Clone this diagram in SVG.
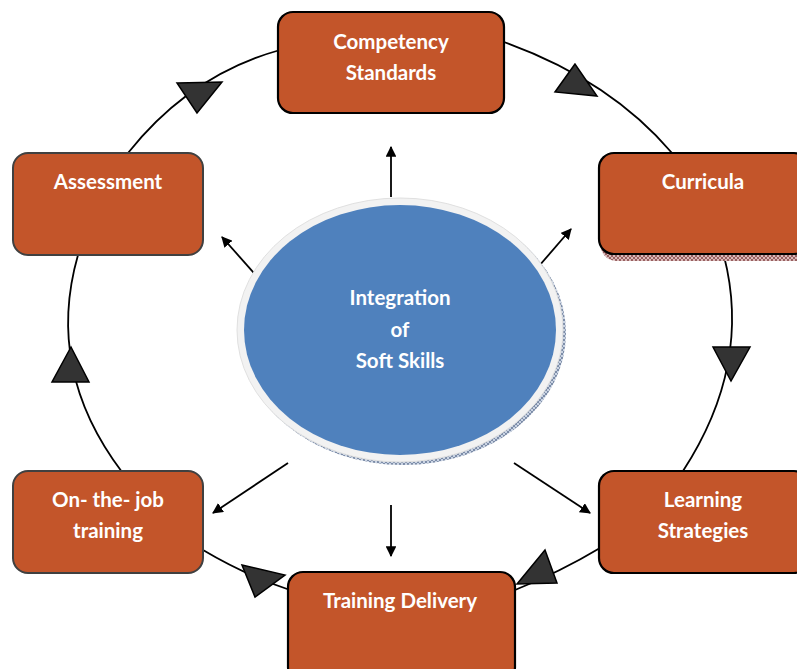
<svg xmlns="http://www.w3.org/2000/svg" width="797" height="669" viewBox="0 0 797 669">
<defs>
<style>
.box{fill:#C3552A;stroke:#000;stroke-width:2.2}
.boxg{fill:#C3552A;stroke:#404040;stroke-width:2}
.t{font-family:Lato,"Open Sans","Liberation Sans",sans-serif;font-weight:700;font-size:20.5px;fill:#fff;text-anchor:middle}
.cyc{fill:none;stroke:#000;stroke-width:1.8}
.tri{fill:#333;stroke:#000;stroke-width:1.5;stroke-linejoin:miter}
.arr{stroke:#000;stroke-width:1.8;fill:none;marker-end:url(#ah)}
</style>
<marker id="ah" viewBox="0 0 10 10" refX="9" refY="5" markerWidth="6" markerHeight="6" orient="auto" markerUnits="strokeWidth">
<path d="M0,0 L10,5 L0,10 z" fill="#000"/>
</marker>
<pattern id="hatchR" width="4" height="4" patternUnits="userSpaceOnUse">
<rect width="4" height="4" fill="#D9B8B8"/>
<path d="M0,0 L4,4 M4,0 L0,4" stroke="#7A3B3B" stroke-width="0.7"/>
</pattern>
<pattern id="hatchB" width="4" height="4" patternUnits="userSpaceOnUse">
<rect width="4" height="4" fill="#C9D3E3"/>
<path d="M0,0 L4,4 M4,0 L0,4" stroke="#4A5E80" stroke-width="0.6"/>
</pattern>
</defs>

<g id="connectors">
<path class="cyc" d="M128,153 Q190,75 280,50"/>
<path class="cyc" d="M504,42 Q610,80 672,153"/>
<path class="cyc" d="M724,256 Q752,365 683,471"/>
<path class="cyc" d="M600,548 Q560,572 515,590"/>
<path class="cyc" d="M203,550 Q245,575 290,590"/>
<path class="cyc" d="M78,255 Q45,370 122,472"/>
<polygon class="tri" points="177,83 222,82 197,113"/>
<polygon class="tri" points="575,64 555,92 597,96"/>
<polygon class="tri" points="713,347 750,347 731,381"/>
<polygon class="tri" points="545,550 517,584 557,583"/>
<polygon class="tri" points="242,565 285,575 255,597"/>
<polygon class="tri" points="71,347 52,382 89,382"/>
<line class="arr" x1="391" y1="197" x2="391" y2="147"/>
<line class="arr" x1="261" y1="281" x2="222" y2="237"/>
<line class="arr" x1="533" y1="273" x2="571" y2="229"/>
<line class="arr" x1="288" y1="463" x2="213" y2="513"/>
<line class="arr" x1="391" y1="505" x2="391" y2="556"/>
<line class="arr" x1="514" y1="463" x2="590" y2="513"/>
</g>

<g id="center">
<ellipse cx="403" cy="333" rx="163" ry="132" fill="url(#hatchB)"/>
<ellipse cx="400" cy="330" rx="163" ry="132" fill="#F2F2F2" stroke="#E0E0E0" stroke-width="1"/>
<ellipse cx="400" cy="330" rx="156" ry="125" fill="#4F81BD"/>
<text class="t" x="400" y="305">Integration</text>
<text class="t" x="400" y="337">of</text>
<text class="t" x="400" y="368">Soft Skills</text>
</g>

<g id="competency">
<rect class="box" x="278" y="12" width="226" height="101" rx="15"/>
<text class="t" x="391" y="49">Competency</text>
<text class="t" x="391" y="80">Standards</text>
</g>

<g id="curricula">
<rect x="601" y="160" width="210" height="101" rx="15" fill="url(#hatchR)"/>
<rect class="box" x="599" y="153" width="210" height="101" rx="15"/>
<text class="t" x="703" y="189">Curricula</text>
</g>

<g id="learning">
<rect class="box" x="599" y="471" width="210" height="102" rx="15"/>
<text class="t" x="703" y="507">Learning</text>
<text class="t" x="703" y="538">Strategies</text>
</g>

<g id="delivery">
<rect class="box" x="288" y="572" width="227" height="110" rx="15"/>
<text class="t" x="400" y="608">Training Delivery</text>
</g>

<g id="onthejob">
<rect class="boxg" x="13" y="471" width="190" height="102" rx="15"/>
<text class="t" x="108" y="507">On- the- job</text>
<text class="t" x="108" y="538">training</text>
</g>

<g id="assessment">
<rect class="boxg" x="13" y="153" width="190" height="102" rx="15"/>
<text class="t" x="108" y="189">Assessment</text>
</g>
</svg>
